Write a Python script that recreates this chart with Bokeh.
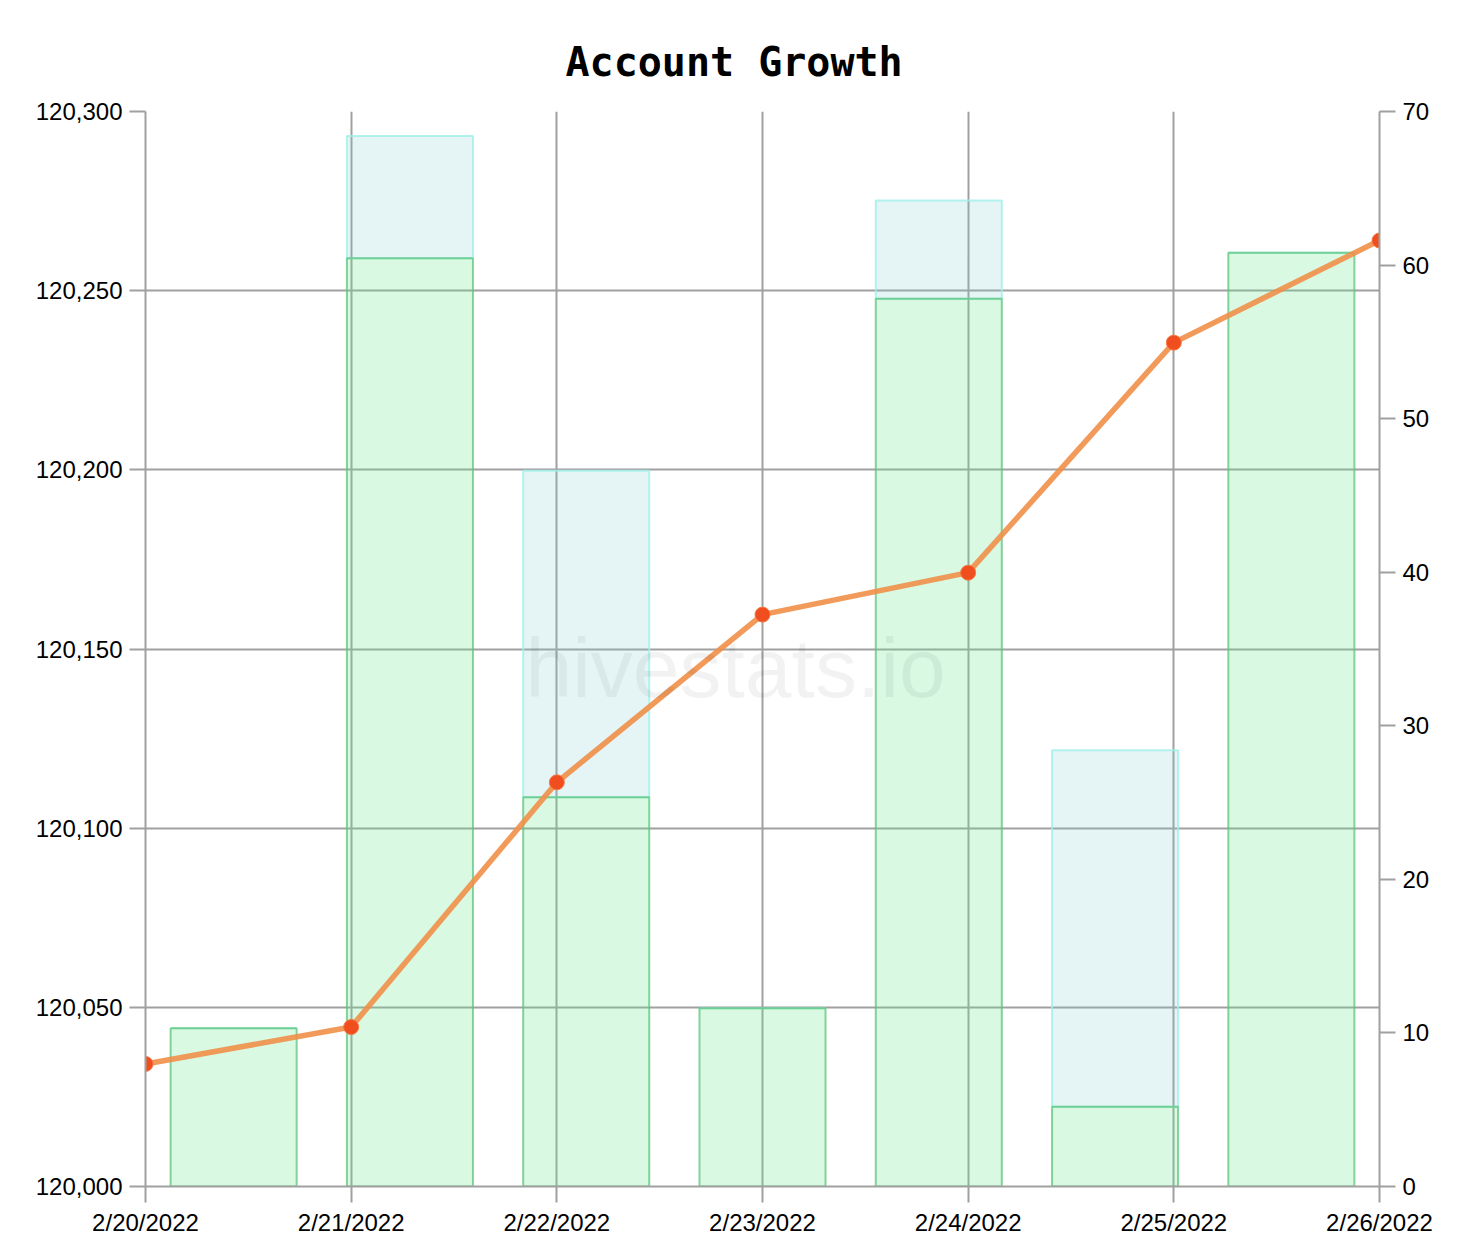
from bokeh.plotting import figure
from bokeh.models import (Range1d, LinearAxis, FixedTicker, NumeralTickFormatter,
                          ColumnDataSource, Label)
from bokeh.embed import file_html
from bokeh.resources import INLINE

# ---- data ----
dates = ["2/20/2022", "2/21/2022", "2/22/2022", "2/23/2022",
         "2/24/2022", "2/25/2022", "2/26/2022"]
total_accounts = [120034.2, 120044.5, 120112.8, 120159.6, 120171.3, 120235.5, 120264.0]
green_vals = [10.3, 60.45, 25.35, 11.6, 57.8, 5.2, 60.8]
cyan_vals = [10.3, 68.4, 46.6, 11.6, 64.2, 28.4, 60.8]
left_ticks = [120000, 120050, 120100, 120150, 120200, 120250, 120300]
right_ticks = [0, 10, 20, 30, 40, 50, 60, 70]

day_idx = list(range(len(dates)))
band_centers = [i + 0.5 for i in range(len(green_vals))]

bars = ColumnDataSource(dict(
    x=band_centers,
    green=green_vals,
    cyan_top=[max(c, g) for c, g in zip(cyan_vals, green_vals)],
))
line_src = ColumnDataSource(dict(x=day_idx, y=total_accounts))

FONT = "Liberation Sans"

p = figure(frame_width=1234, frame_height=1075,
           x_range=Range1d(0, len(dates) - 1),
           y_range=Range1d(left_ticks[0], left_ticks[-1]),
           output_backend="svg", toolbar_location=None,
           min_border_left=145, min_border_right=95,
           min_border_top=111, min_border_bottom=58,
           background_fill_color="white", border_fill_color="white")
p.outline_line_color = None
p.extra_x_ranges = {"band": Range1d(0, len(green_vals))}
p.extra_y_ranges = {"right": Range1d(right_ticks[0], right_ticks[-1])}

# title
p.title.text = "Account Growth"
p.title.text_font = "DejaVu Sans Mono"
p.title.text_font_style = "bold"
p.title.text_font_size = "40px"
p.title.text_color = "black"
p.title.align = "left"
p.title.offset = 420
p.title.standoff = 54

# bars
p.vbar(x="x", width=0.715, bottom="green", top="cyan_top", source=bars,
       x_range_name="band", y_range_name="right",
       fill_color="#7dcdcd", fill_alpha=0.2,
       line_color="#9ff0ea", line_alpha=0.8, line_width=2)
p.vbar(x="x", width=0.715, bottom=0, top="green", source=bars,
       x_range_name="band", y_range_name="right",
       fill_color="#67e78f", fill_alpha=0.25,
       line_color="#5cc47c", line_alpha=0.75, line_width=2)

# watermark
p.add_layout(Label(x=3.347, y=120144.8, x_range_name="band",
                   text="hivestats.io", text_font=FONT,
                   text_font_size="84px", text_color="black",
                   text_alpha=0.05, text_align="center",
                   text_baseline="alphabetic"))

# line
p.line(x="x", y="y", source=line_src, line_color="#ef8f48",
       line_alpha=0.9, line_width=5.5)
p.scatter(x="x", y="y", source=line_src, size=15, fill_color="#f04e1e",
          line_color="#f47a45", line_width=1)

# axes
def style_axis(ax):
    ax.axis_line_color = "#a0a0a0"
    ax.axis_line_width = 2
    ax.major_tick_line_color = "#a0a0a0"
    ax.major_tick_line_width = 2
    ax.major_tick_out = 16
    ax.major_tick_in = 0
    ax.minor_tick_line_color = None
    ax.major_label_text_font = FONT
    ax.major_label_text_font_size = "24px"
    ax.major_label_text_color = "black"
    ax.major_label_standoff = 7

xax = p.xaxis[0]
xax.ticker = FixedTicker(ticks=day_idx)
xax.major_label_overrides = {i: d for i, d in zip(day_idx, dates)}
style_axis(xax)
xax.major_label_standoff = 6

yax = p.yaxis[0]
yax.ticker = FixedTicker(ticks=left_ticks)
yax.formatter = NumeralTickFormatter(format="0,0")
style_axis(yax)

rax = LinearAxis(y_range_name="right", ticker=FixedTicker(ticks=right_ticks))
style_axis(rax)
p.add_layout(rax, "right")

# grid
p.xgrid.ticker = FixedTicker(ticks=day_idx)
p.ygrid.ticker = FixedTicker(ticks=left_ticks)
for g in (p.xgrid[0], p.ygrid[0]):
    g.grid_line_color = "#a0a0a0"
    g.grid_line_width = 2

open("out.html", "w").write(file_html(p, INLINE))
